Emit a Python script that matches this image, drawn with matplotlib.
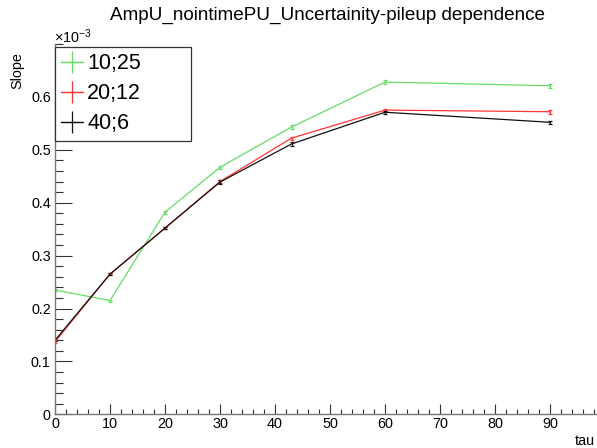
# -*- coding: utf-8 -*-
"""Slope vs tau for three pileup settings (ROOT style graph)"""

import matplotlib
matplotlib.use("Agg")
import matplotlib.pyplot as plt
from matplotlib.lines import Line2D
from matplotlib.ticker import MultipleLocator

plt.rcParams['font.family'] = ['Liberation Sans', 'DejaVu Sans']
plt.rcParams['mathtext.fontset'] = 'custom'
plt.rcParams['mathtext.rm'] = 'Liberation Sans'

#data (slope in units of 1e-3)
tau = [0, 10, 20, 30, 43, 60, 90]
labels = ["10;25", "20;12", "40;6"]
slope_10_25 = [0.235, 0.215, 0.382, 0.467, 0.543, 0.628, 0.621]
slope_20_12 = [0.137, 0.265, 0.352, 0.440, 0.522, 0.575, 0.572]
slope_40_6 = [0.140, 0.265, 0.352, 0.439, 0.511, 0.571, 0.552]
err_10_25 = [0.002, 0.002, 0.003, 0.003, 0.003, 0.004, 0.004]
err_20_12 = [0.002, 0.002, 0.002, 0.003, 0.003, 0.003, 0.004]
err_40_6 = [0.002, 0.002, 0.002, 0.003, 0.003, 0.003, 0.003]
colors = ["#66dc66", "#ff3333", "#111111"]

fig = plt.figure(figsize=(5.97, 4.48), dpi=100)
ax = fig.add_axes([55/597, 1-414.3/448, 544.5/597, 370.3/448])

series = [(slope_10_25, err_10_25), (slope_20_12, err_20_12), (slope_40_6, err_40_6)]
for (vals, errs), c in zip(series, colors):
    ax.errorbar(tau, vals, yerr=errs, color=c, lw=0.9, elinewidth=0.9,
                capsize=1.3, capthick=0.9)

ax.set_xlim(0, 99)
ax.set_ylim(0, 0.7)
ax.xaxis.set_major_locator(MultipleLocator(10))
ax.xaxis.set_minor_locator(MultipleLocator(2))
ax.yaxis.set_major_locator(MultipleLocator(0.1))
ax.yaxis.set_minor_locator(MultipleLocator(0.02))
ax.set_yticks([0, 0.1, 0.2, 0.3, 0.4, 0.5, 0.6])
ax.set_yticklabels(["0", "0.1", "0.2", "0.3", "0.4", "0.5", "0.6"])

ax.spines['top'].set_visible(False)
ax.spines['right'].set_visible(False)
for s in ['left', 'bottom']:
    ax.spines[s].set_color('#777777')
    ax.spines[s].set_linewidth(1.0)

ax.tick_params(axis='both', which='both', direction='in', colors='#333333',
               labelcolor='black', labelsize=10.4, width=0.8, top=False, right=False)
ax.tick_params(axis='y', which='major', length=12, pad=3)
ax.tick_params(axis='y', which='minor', length=6)
ax.tick_params(axis='x', which='major', length=7.2, pad=2)
ax.tick_params(axis='x', which='minor', length=3.6)

#legend with cross shaped handles
handles = [Line2D([], [], color=c, lw=0.9, marker='+', markersize=16, markeredgewidth=0.9)
           for c in colors]
leg = ax.legend(handles, labels, loc='upper left',
                bbox_to_anchor=(0, 0.992, 136/544.5, 0.0), mode='expand',
                borderaxespad=0, fontsize=15.5, frameon=True, fancybox=False,
                edgecolor='#333333', framealpha=1, handlelength=1.0,
                handletextpad=0.2, labelspacing=0.41, borderpad=0.3)
leg.get_frame().set_linewidth(0.9)

fig.text(327.5/597, 1-15/448, "AmpU_nointimePU_Uncertainity-pileup dependence",
         ha='center', va='center', fontsize=13.6)
fig.text(17/597, 1-52/448, "Slope", rotation=90, ha='center', va='top', fontsize=10.4)
fig.text(595/597, 1-441/448, "tau", ha='right', va='center', fontsize=10.4)
fig.text(54/597, 1-43/448, r"$\times10^{-3}$", ha='left', va='baseline', fontsize=10.4)

fig.savefig("out.png", dpi=100)
